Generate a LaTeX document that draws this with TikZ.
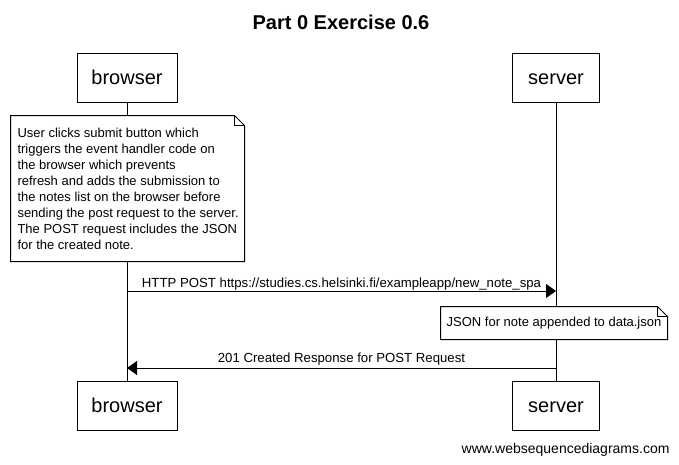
\documentclass[tikz,border=0pt]{standalone}
\usepackage{fontspec}
\setmainfont{Liberation Sans}
\usetikzlibrary{arrows.meta}
\begin{document}
\begin{tikzpicture}[x=1pt,y=-1pt,line width=1pt,
  actor/.style={draw,fill=white,minimum height=49pt,inner sep=0pt,text height=16pt,text depth=2pt,font=\fontsize{20}{24}\selectfont},
  notebox/.style={fill=white,inner sep=0pt,font=\fontsize{13}{16}\selectfont},
  msg/.style={-{Triangle[length=10pt,width=14pt]}},
  lbl/.style={font=\fontsize{13.2}{16}\selectfont,inner sep=0pt}]
\path[use as bounding box,fill=white] (0,0) rectangle (679,464);
\node[font=\bfseries\fontsize{20}{24}\selectfont] (title) at (341,22) {Part 0 Exercise 0.6};
\node[actor,minimum width=100pt] (bt) at (127,77.5) {browser};
\node[actor,minimum width=87pt] (st) at (556,77.5) {server};
\node[actor,minimum width=100pt] (bb) at (127,405.5) {browser};
\node[actor,minimum width=87pt] (sb) at (556,405.5) {server};
\draw (bt) -- (bb);
\draw (st) -- (sb);
% note 1
\node[notebox,minimum width=233pt,minimum height=145pt] (n1) at (127.5,188.5) {};
\node[notebox,anchor=west,align=left] (t1) at (17,188.5)
 {User clicks submit button which\\triggers the event handler code on\\the browser which prevents\\refresh and adds the submission to\\the notes list on the browser before\\sending the post request to the server.\\The POST request includes the JSON\\for the created note.};
\draw (n1.north west) -- ([xshift=-10pt]n1.north east) -- ([yshift=-10pt]n1.north east) -- (n1.south east) -- (n1.south west) -- cycle;
\draw ([xshift=-10pt]n1.north east) -- ([xshift=-10pt,yshift=-10pt]n1.north east) -- ([yshift=-10pt]n1.north east);
% messages
\coordinate (b1) at (127,291);
\coordinate (s1) at (556,291);
\draw[msg] (b1) -- (s1) node[lbl,midway,above=0.5pt] {HTTP POST https://studies.cs.helsinki.fi/exampleapp/new\_note\_spa};
% note 2
\node[notebox,minimum width=226pt,minimum height=32pt] (n2) at (554,323) {JSON for note appended to data.json};
\draw (n2.north west) -- ([xshift=-10pt]n2.north east) -- ([yshift=-10pt]n2.north east) -- (n2.south east) -- (n2.south west) -- cycle;
\draw ([xshift=-10pt]n2.north east) -- ([xshift=-10pt,yshift=-10pt]n2.north east) -- ([yshift=-10pt]n2.north east);
\coordinate (s2) at (556,368);
\coordinate (b2) at (127,368);
\draw[msg] (s2) -- (b2) node[lbl,midway,above=2pt] {201 Created Response for POST Request};
\node[anchor=east,font=\fontsize{14}{16}\selectfont,inner sep=0pt] (foot) at (670,450) {www.websequencediagrams.com};
\end{tikzpicture}
\end{document}
